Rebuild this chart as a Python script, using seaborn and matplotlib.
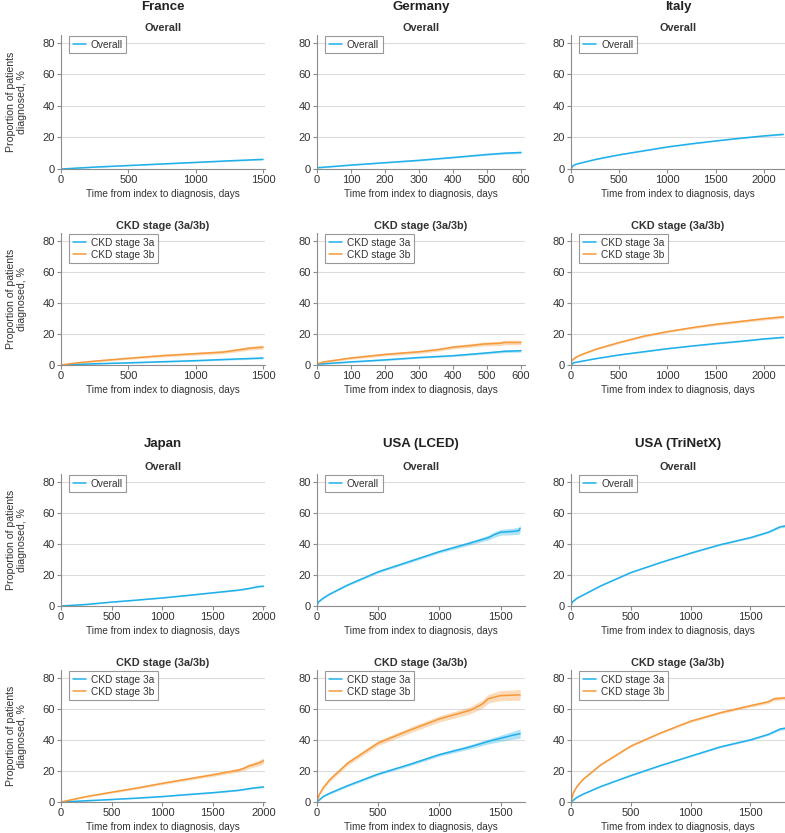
import matplotlib
matplotlib.use('Agg')
import matplotlib.pyplot as plt
import seaborn as sns
import pandas as pd

# ---- data (days, %, CI half-width) ----
france_all_x = [0, 250, 500, 750, 1000, 1250, 1500]
france_all_y = [0, 1.2, 2.2, 3.2, 4.2, 5.2, 6.1]
france_all_ci = [0.1, 0.2, 0.2, 0.3, 0.3, 0.4, 0.4]
france_3a_x = [0, 250, 500, 750, 1000, 1250, 1500]
france_3a_y = [0, 0.8, 1.4, 2.1, 2.8, 3.7, 4.5]
france_3a_ci = [0.1, 0.3, 0.3, 0.4, 0.4, 0.5, 0.6]
france_3b_x = [0, 100, 250, 500, 750, 1000, 1200, 1300, 1400, 1500]
france_3b_y = [0, 1.2, 2.5, 4.3, 6.0, 7.3, 8.3, 9.5, 10.8, 11.5]
france_3b_ci = [0.2, 0.5, 0.6, 0.7, 0.8, 0.9, 1.0, 1.1, 1.2, 1.3]

germany_all_x = [0, 100, 200, 300, 400, 500, 550, 600]
germany_all_y = [0.8, 2.5, 4.0, 5.5, 7.3, 9.2, 10.0, 10.5]
germany_all_ci = [0.3, 0.3, 0.3, 0.4, 0.4, 0.5, 0.6, 0.7]
germany_3a_x = [0, 100, 200, 300, 400, 500, 550, 600]
germany_3a_y = [0.5, 2.0, 3.3, 4.8, 6.0, 7.8, 8.8, 9.2]
germany_3a_ci = [0.3, 0.4, 0.5, 0.5, 0.6, 0.7, 0.8, 0.9]
germany_3b_x = [0, 20, 100, 200, 300, 360, 400, 450, 490, 540, 550, 600]
germany_3b_y = [0.8, 2.0, 4.5, 6.8, 8.5, 10.0, 11.5, 12.5, 13.5, 14.0, 14.5, 14.5]
germany_3b_ci = [0.4, 0.6, 0.8, 0.9, 1.0, 1.0, 1.1, 1.2, 1.3, 1.4, 1.5, 1.5]

italy_all_x = [0, 20, 50, 250, 500, 750, 1000, 1250, 1500, 1750, 2000, 2200]
italy_all_y = [0, 2.0, 3.0, 6.0, 9.0, 11.5, 14.0, 16.0, 17.8, 19.5, 21.0, 22.0]
italy_all_ci = [0.1, 0.2, 0.2, 0.2, 0.3, 0.3, 0.3, 0.3, 0.3, 0.4, 0.4, 0.5]
italy_3a_x = [0, 30, 250, 500, 750, 1000, 1250, 1500, 1750, 2000, 2200]
italy_3a_y = [0, 1.5, 4.0, 6.5, 8.5, 10.5, 12.2, 13.8, 15.2, 16.8, 17.8]
italy_3a_ci = [0.1, 0.2, 0.2, 0.3, 0.3, 0.3, 0.3, 0.4, 0.4, 0.4, 0.5]
italy_3b_x = [0, 10, 50, 100, 250, 500, 750, 1000, 1250, 1500, 1750, 2000, 2200]
italy_3b_y = [0, 3.0, 5.0, 6.5, 10.0, 14.5, 18.5, 21.5, 24.0, 26.2, 28.0, 29.8, 31.0]
italy_3b_ci = [0.2, 0.4, 0.5, 0.5, 0.6, 0.6, 0.7, 0.7, 0.7, 0.8, 0.8, 0.9, 1.0]

japan_all_x = [0, 250, 500, 750, 1000, 1250, 1500, 1750, 1850, 1950, 2000]
japan_all_y = [0, 1.0, 2.5, 3.8, 5.2, 6.8, 8.5, 10.2, 11.2, 12.5, 12.8]
japan_all_ci = [0.1, 0.2, 0.2, 0.2, 0.3, 0.3, 0.3, 0.4, 0.4, 0.5, 0.5]
japan_3a_x = [0, 250, 500, 750, 1000, 1250, 1500, 1750, 1900, 2000]
japan_3a_y = [0, 0.8, 1.6, 2.5, 3.5, 4.8, 6.0, 7.5, 9.0, 9.7]
japan_3a_ci = [0.1, 0.2, 0.2, 0.3, 0.3, 0.3, 0.4, 0.4, 0.5, 0.5]
japan_3b_x = [0, 250, 500, 750, 1000, 1250, 1500, 1750, 1800, 1850, 1950, 2000]
japan_3b_y = [0, 3.5, 6.3, 9.0, 12.0, 14.8, 17.5, 20.5, 21.5, 23.0, 25.0, 26.5]
japan_3b_ci = [0.2, 0.5, 0.6, 0.7, 0.8, 0.9, 1.0, 1.2, 1.3, 1.5, 1.7, 1.9]

lced_all_x = [0, 10, 50, 100, 250, 500, 750, 1000, 1250, 1400, 1450, 1500, 1600, 1650, 1660]
lced_all_y = [0, 2.5, 5.0, 7.5, 13.5, 22.0, 28.5, 35.0, 40.5, 44.0, 46.0, 47.5, 48.0, 48.5, 50.0]
lced_all_ci = [0.2, 0.4, 0.5, 0.5, 0.6, 0.7, 0.8, 0.9, 1.2, 1.5, 1.7, 1.9, 2.1, 2.3, 2.5]
lced_3a_x = [0, 50, 100, 250, 500, 750, 1000, 1250, 1400, 1500, 1600, 1660]
lced_3a_y = [0, 3.5, 5.5, 10.5, 18.0, 24.0, 30.5, 35.5, 39.0, 41.0, 43.0, 44.0]
lced_3a_ci = [0.3, 0.5, 0.6, 0.7, 0.8, 0.9, 1.0, 1.3, 1.6, 2.0, 2.5, 3.0]
lced_3b_x = [0, 20, 50, 100, 250, 500, 750, 1000, 1250, 1350, 1400, 1500, 1660]
lced_3b_y = [0, 5.0, 9.0, 14.0, 25.0, 38.0, 46.0, 53.5, 59.0, 63.0, 66.5, 68.5, 69.0]
lced_3b_ci = [0.5, 0.8, 1.0, 1.2, 1.4, 1.6, 1.8, 2.0, 2.3, 2.6, 2.8, 3.2, 3.5]

tnx_all_x = [0, 10, 50, 100, 250, 500, 750, 1000, 1250, 1500, 1650, 1750, 1790]
tnx_all_y = [0, 2.5, 5.0, 7.0, 13.0, 21.5, 28.0, 34.0, 39.5, 44.0, 47.5, 51.0, 51.5]
tnx_all_ci = [0.2, 0.3, 0.3, 0.3, 0.3, 0.3, 0.3, 0.4, 0.4, 0.5, 0.6, 0.7, 0.8]
tnx_3a_x = [0, 50, 100, 250, 500, 750, 1000, 1250, 1500, 1650, 1750, 1790]
tnx_3a_y = [0, 3.0, 5.0, 10.0, 17.0, 23.5, 29.5, 35.5, 40.0, 43.5, 47.0, 47.5]
tnx_3a_ci = [0.2, 0.3, 0.3, 0.3, 0.4, 0.4, 0.4, 0.5, 0.5, 0.6, 0.8, 0.9]
tnx_3b_x = [0, 20, 50, 100, 250, 500, 750, 1000, 1250, 1500, 1650, 1700, 1790]
tnx_3b_y = [0, 6.0, 10.0, 14.5, 24.0, 36.0, 44.5, 52.0, 57.5, 62.0, 64.5, 66.5, 67.0]
tnx_3b_ci = [0.2, 0.4, 0.5, 0.5, 0.5, 0.6, 0.6, 0.7, 0.8, 0.9, 1.0, 1.1, 1.2]

countries = ['France', 'Germany', 'Italy', 'Japan', 'USA (LCED)', 'USA (TriNetX)']
x_limits = [1515, 612, 2218, 2015, 1700, 1790]
x_ticks = [[0, 500, 1000, 1500], [0, 100, 200, 300, 400, 500, 600],
           [0, 500, 1000, 1500, 2000], [0, 500, 1000, 1500, 2000],
           [0, 500, 1000, 1500], [0, 500, 1000, 1500]]
overall = [(france_all_x, france_all_y, france_all_ci), (germany_all_x, germany_all_y, germany_all_ci),
           (italy_all_x, italy_all_y, italy_all_ci), (japan_all_x, japan_all_y, japan_all_ci),
           (lced_all_x, lced_all_y, lced_all_ci), (tnx_all_x, tnx_all_y, tnx_all_ci)]
stage_3a = [(france_3a_x, france_3a_y, france_3a_ci), (germany_3a_x, germany_3a_y, germany_3a_ci),
            (italy_3a_x, italy_3a_y, italy_3a_ci), (japan_3a_x, japan_3a_y, japan_3a_ci),
            (lced_3a_x, lced_3a_y, lced_3a_ci), (tnx_3a_x, tnx_3a_y, tnx_3a_ci)]
stage_3b = [(france_3b_x, france_3b_y, france_3b_ci), (germany_3b_x, germany_3b_y, germany_3b_ci),
            (italy_3b_x, italy_3b_y, italy_3b_ci), (japan_3b_x, japan_3b_y, japan_3b_ci),
            (lced_3b_x, lced_3b_y, lced_3b_ci), (tnx_3b_x, tnx_3b_y, tnx_3b_ci)]

BLUE = '#1fb0ea'
ORANGE = '#f5993a'
W, H = 785, 833

sns.set_style('white')
plt.rcParams['font.family'] = ['Liberation Sans', 'DejaVu Sans']
fig = plt.figure(figsize=(W / 100, H / 100), dpi=100)

col_px = [(61, 265), (317, 525), (571, 785)]
row_px = [(35, 169), (233, 365), (474, 606), (670, 802)]


def make_ax(col, row):
    x0, x1 = col_px[col]
    y0, y1 = row_px[row]
    return fig.add_axes([x0 / W, 1 - y1 / H, (x1 - x0) / W, (y1 - y0) / H])


def draw_panel(ax, series, xmax, ticks, subtitle, show_ylabel):
    frames = []
    for name, (x, y, ci), color in series:
        frames.append(pd.DataFrame({'days': x, 'pct': y, 'group': name}))
        lo = [a - b for a, b in zip(y, ci)]
        hi = [a + b for a, b in zip(y, ci)]
        ax.fill_between(x, lo, hi, color=color, alpha=0.35, lw=0)
    df = pd.concat(frames)
    pal = {name: color for name, _, color in series}
    sns.lineplot(data=df, x='days', y='pct', hue='group', palette=pal, ax=ax,
                 lw=1.1, estimator=None)
    ax.set_xlim(0, xmax)
    ax.set_ylim(0, 85)
    ax.set_xticks(ticks)
    ax.set_yticks([0, 20, 40, 60, 80])
    ax.yaxis.grid(True, color='#dcdcdc', lw=0.8)
    ax.set_axisbelow(True)
    for s in ['top', 'right']:
        ax.spines[s].set_visible(False)
    for s in ['left', 'bottom']:
        ax.spines[s].set_color('#8c8c8c')
        ax.spines[s].set_linewidth(0.8)
    ax.tick_params(axis='both', labelsize=8, colors='#8c8c8c', labelcolor='#333333',
                   length=3, width=0.8, pad=1.5, direction='out', left=True, bottom=True)
    ax.set_xlabel('Time from index to diagnosis, days', fontsize=7.2, color='#333333', labelpad=3)
    if show_ylabel:
        ax.set_ylabel('Proportion of patients\ndiagnosed, %', fontsize=7.6, color='#333333')
        ax.yaxis.set_label_coords(-0.165, 0.5)
    else:
        ax.set_ylabel('')
    ax.set_title(subtitle, fontsize=7.8, fontweight='bold', color='#333333', pad=3)
    leg = ax.legend(loc='upper left', bbox_to_anchor=(8 / 204, 0.99), fontsize=7.3,
                    frameon=True, fancybox=False, edgecolor='#7f7f7f', handlelength=1.3,
                    handletextpad=0.5, borderpad=0.35, labelspacing=0.2, borderaxespad=0)
    leg.get_frame().set_linewidth(0.8)
    for t in leg.get_texts():
        t.set_color('#333333')


for i, country in enumerate(countries):
    col = i % 3
    block = i // 3
    ax1 = make_ax(col, block * 2)
    draw_panel(ax1, [('Overall', overall[i], BLUE)], x_limits[i], x_ticks[i], 'Overall', col == 0)
    ax2 = make_ax(col, block * 2 + 1)
    draw_panel(ax2, [('CKD stage 3a', stage_3a[i], BLUE), ('CKD stage 3b', stage_3b[i], ORANGE)],
               x_limits[i], x_ticks[i], 'CKD stage (3a/3b)', col == 0)
    x0, x1 = col_px[col]
    ty = 7 if block == 0 else 444
    fig.text((x0 + x1) / 2 / W, 1 - ty / H, country, ha='center', va='center',
             fontsize=9.5, fontweight='bold', color='#222222')

fig.savefig('out.png', dpi=100)
